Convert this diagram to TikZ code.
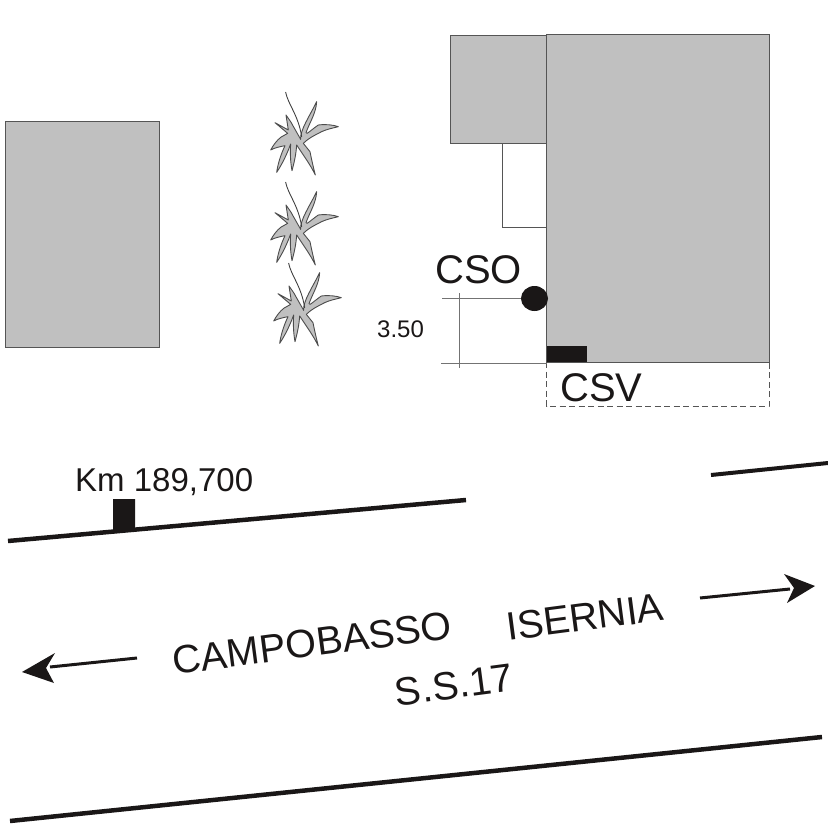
\documentclass[tikz,border=0pt]{standalone}
\usepackage{fontspec}
\setmainfont{Liberation Sans}
\definecolor{bgrey}{HTML}{C0C0C0}
\definecolor{edge}{HTML}{555555}
\definecolor{ink}{HTML}{1A1717}
\tikzset{
  building/.style={fill=bgrey,draw=edge,line width=0.9pt},
  dim/.style={draw=black!55,line width=1pt},
  road/.style={draw=ink,line width=4.5pt},
  big/.style={font=\fontsize{40}{40}\selectfont,text=ink,inner sep=0pt},
  road label/.style={font=\fontsize{39.5}{40}\selectfont,text=ink,inner sep=0pt},
  mid/.style={font=\fontsize{33}{33}\selectfont,text=ink,inner sep=0pt},
  small/.style={font=\fontsize{24}{24}\selectfont,text=ink,inner sep=0pt},
  plantleaf/.style={fill=bgrey,draw=black!70,line width=0.9pt,line join=round},
  plantstem/.style={draw=black!75,line width=0.9pt,line cap=round},
  plant/.pic={
    \begin{scope}[x=0.3333pt,y=-0.3333pt]
    \path[plantleaf] (152,178) .. controls (150,150) and (178,110) .. (200,65)
      .. controls (198,100) and (180,125) .. (168,158)
      -- (172,160) .. controls (185,150) and (195,142) .. (205,135)
      .. controls (230,132) and (250,135) .. (265,140)
      .. controls (245,145) and (230,148) .. (215,155)
      .. controls (195,165) and (175,175) .. (160,190)
      -- (180,215) .. controls (185,240) and (190,262) .. (196,285)
      .. controls (185,262) and (170,240) .. (160,225) -- (140,195)
      .. controls (138,225) and (132,250) .. (126,272)
      .. controls (122,250) and (120,225) .. (122,192)
      .. controls (110,225) and (95,255) .. (80,277)
      .. controls (84,250) and (92,225) .. (105,197)
      .. controls (90,200) and (75,203) .. (62,210)
      .. controls (70,195) and (80,182) .. (92,172)
      -- (113,160) -- (75,128) -- (115,150)
      -- (108,105) -- (122,125) -- cycle;
    \draw[plantstem] (107,37) .. controls (115,75) and (145,105) .. (155,170);
    \end{scope}
  }
}
\begin{document}
\begin{tikzpicture}[x=1pt,y=-1pt]
\useasboundingbox (0,0) rectangle (828,827);
% buildings
\draw[building] (5,121.5) rectangle (159,347.5);
\draw[building] (450.5,35.5) rectangle (546.5,143);
\draw[draw=edge,line width=0.9pt,fill=white] (546.5,143) -- (502.5,143) -- (502.5,227) -- (546.5,227);
\draw[building] (546.5,34.5) rectangle (769,362);
\draw[draw=edge,line width=0.8pt,dash pattern=on 6pt off 3.5pt] (546.5,362) -- (546.5,406) -- (769,406) -- (769,362);
\fill[ink] (546.5,346) rectangle (587,362);
% dimension
\draw[dim] (442,298) -- (521,298);
\draw[dim] (441,363) -- (546.5,363);
\draw[dim] (459,293) -- (459,368);
\fill[ink] (534.5,298.5) ellipse [x radius=13.5,y radius=12.5];
% plants
\pic at (250,80) {plant};
\pic at (250,170) {plant};
\pic at (253,251) {plant};
% roads
\draw[road] (8,541) -- (466,500);
\draw[road,line width=4pt] (711,475) -- (828,463);
\draw[road] (10,821) -- (822,737);
\fill[ink] (113,499) -- (135,499) -- (135,529) -- (113,532) -- cycle;
% arrows
\draw[ink,line width=3pt] (137,658) -- (50,667);
\fill[ink] (22,672) -- (55,653) -- (46,668) -- (54,683) -- cycle;
\draw[ink,line width=3pt] (700,598) -- (790,589);
\fill[ink] (815,586) -- (784,574) -- (794,588) -- (787,603) -- cycle;
% labels
\node[big,anchor=base west] (cso) at (435,283) {CSO};
\node[big,anchor=base west] (csv) at (560,401) {CSV};
\node[small,anchor=base west] (dimtext) at (377,337) {3.50};
\node[mid,anchor=base west] (km) at (75,491) {Km 189,700};
\node[road label,anchor=center,rotate=7.5] (cb) at (312,643) {CAMPOBASSO};
\node[road label,anchor=center,rotate=7.5] (is) at (585,617) {ISERNIA};
\node[road label,anchor=center,rotate=7.5] (ss) at (454,685) {S.S.17};
\end{tikzpicture}
\end{document}
